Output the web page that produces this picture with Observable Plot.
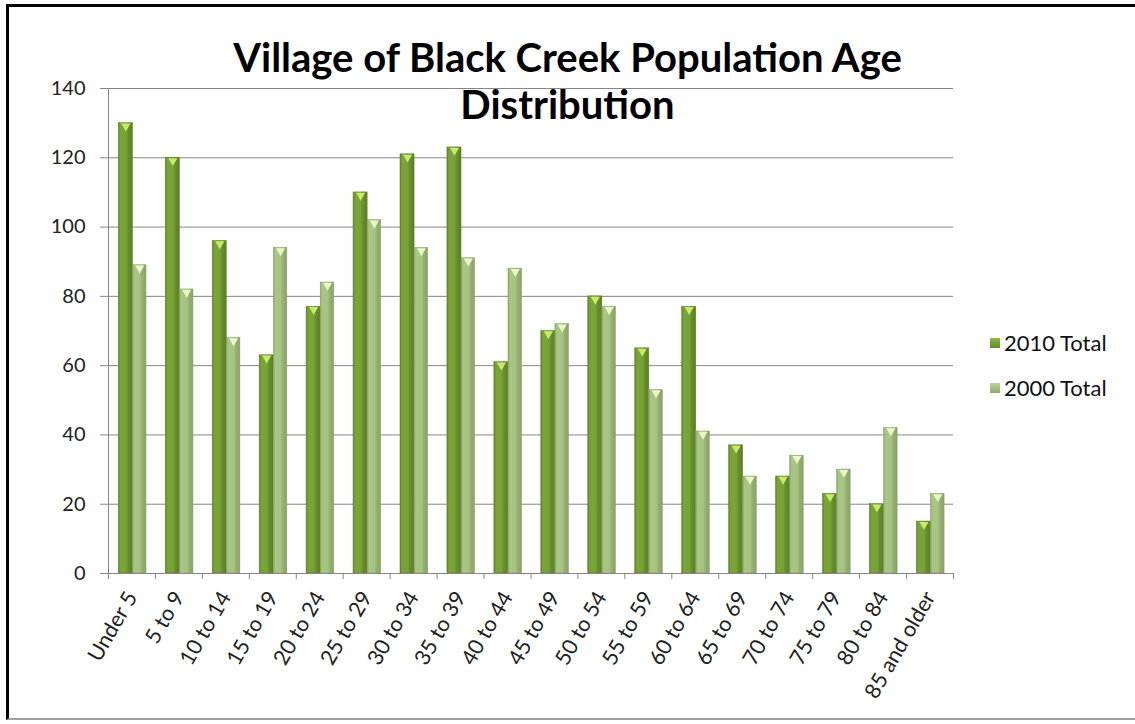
<!DOCTYPE html>
<html>
<head>
<meta charset="utf-8">
<script src="https://cdn.jsdelivr.net/npm/d3@7"></script>
<script src="https://cdn.jsdelivr.net/npm/@observablehq/plot@0.6"></script>
<style>
  html, body { margin: 0; padding: 0; background: #fff; }
  #wrap { position: relative; width: 1135px; height: 724px; overflow: hidden; font-family: Lato, "Open Sans", sans-serif; }
  #frame { position: absolute; left: 6px; top: 4px; width: 1129px; height: 716px; border-left: 3px solid #000; border-top: 3px solid #000; border-bottom: 2px solid #a0a0a0; border-right: none; box-sizing: border-box; pointer-events: none; }
  #chart { position: absolute; left: 0; top: 0; }
  #title { position: absolute; left: 0; width: 1135px; top: 34px; text-align: center; font-weight: bold; font-size: 40px; line-height: 47px; color: #000; }
  .legend { position: absolute; left: 990px; font-size: 22px; color: #111; display: flex; align-items: center; }
  .sw { width: 10px; height: 10px; margin-right: 4px; }
</style>
</head>
<body>
<div id="wrap">
  <div id="chart"></div>
  <div id="title">Village of Black Creek Population Age<br>Distribution</div>
  <div class="legend" style="top:329px"><span class="sw" style="background:linear-gradient(#8fbb45,#5f8a2a)"></span>2010 Total</div>
  <div class="legend" style="top:374px"><span class="sw" style="background:linear-gradient(#b9d596,#90a870)"></span>2000 Total</div>
  <div id="frame"></div>
</div>
<script>
const categories = ["Under 5","5 to 9","10 to 14","15 to 19","20 to 24","25 to 29","30 to 34","35 to 39","40 to 44","45 to 49","50 to 54","55 to 59","60 to 64","65 to 69","70 to 74","75 to 79","80 to 84","85 and older"];
const total2010 = [130,120,96,63,77,110,121,123,61,70,80,65,77,37,28,23,20,15];
const total2000 = [89,82,68,94,84,102,94,91,88,72,77,53,41,28,34,30,42,23];
const yTicks = [0,20,40,60,80,100,120,140];

const data2010 = categories.map((c, i) => ({cat: c, value: total2010[i]}));
const data2000 = categories.map((c, i) => ({cat: c, value: total2000[i]}));

const W = 1135, H = 724, mL = 108, mR = 182, mT = 88, mB = 151;
const bw = (W - mL - mR) / categories.length;
const gray = "#868686";

const chart = Plot.plot({
  width: W, height: H,
  marginLeft: mL, marginRight: mR, marginTop: mT, marginBottom: mB,
  style: {fontFamily: "Lato, 'Open Sans', sans-serif", fontSize: "20px", color: "#222", background: "transparent"},
  x: {domain: categories, padding: 0, round: false, label: null},
  y: {domain: [0, 140], label: null},
  marks: [
    Plot.gridY(yTicks, {stroke: gray, strokeOpacity: 1}),
    Plot.barY(data2010, {x: "cat", y: "value", fill: "url(#g2010)", insetLeft: bw * 0.22, insetRight: bw * 0.48, stroke: "#5a7d28", strokeWidth: 0.5}),
    Plot.barY(data2000, {x: "cat", y: "value", fill: "url(#g2000)", insetLeft: bw * 0.52, insetRight: bw * 0.19, stroke: "#8aa06a", strokeWidth: 0.5}),
    Plot.dot(data2010, {x: "cat", y: "value", symbol: "triangle", rotate: 180, r: 3.4, fill: "#c8ea6a", dx: bw * (0.37 - 0.5), dy: 3}),
    Plot.dot(data2000, {x: "cat", y: "value", symbol: "triangle", rotate: 180, r: 3.4, fill: "#eaf7c8", dx: bw * (0.665 - 0.5), dy: 3}),
    Plot.frame({anchor: "left", stroke: gray}),
    Plot.ruleY([0], {stroke: gray}),
    Plot.axisY(yTicks, {tickSize: 8, tickPadding: 15, stroke: gray, fill: "#222", label: null}),
    Plot.axisX(categories, {tickSize: 6, dx: -bw / 2, text: null, stroke: gray, label: null}),
    Plot.axisX([categories[categories.length - 1]], {tickSize: 6, dx: bw / 2, text: null, stroke: gray, label: null}),
    Plot.axisX(categories, {tickSize: 0, tickPadding: 20, tickRotate: -60, fill: "#222", fontSize: 21.5, label: null})
  ]
});

chart.insertAdjacentHTML("afterbegin",
  `<defs>
    <linearGradient id="g2010" x1="0" y1="0" x2="1" y2="0">
      <stop offset="0" stop-color="#5e8528"/>
      <stop offset="0.15" stop-color="#7aa536"/>
      <stop offset="0.55" stop-color="#78a236"/>
      <stop offset="0.7" stop-color="#668f2c"/>
      <stop offset="1" stop-color="#5a7f26"/>
    </linearGradient>
    <linearGradient id="g2000" x1="0" y1="0" x2="1" y2="0">
      <stop offset="0" stop-color="#8ea56c"/>
      <stop offset="0.15" stop-color="#a9c784"/>
      <stop offset="0.55" stop-color="#a6c481"/>
      <stop offset="0.7" stop-color="#96b073"/>
      <stop offset="1" stop-color="#8aa26a"/>
    </linearGradient>
  </defs>`);

document.getElementById("chart").appendChild(chart);
</script>
</body>
</html>
